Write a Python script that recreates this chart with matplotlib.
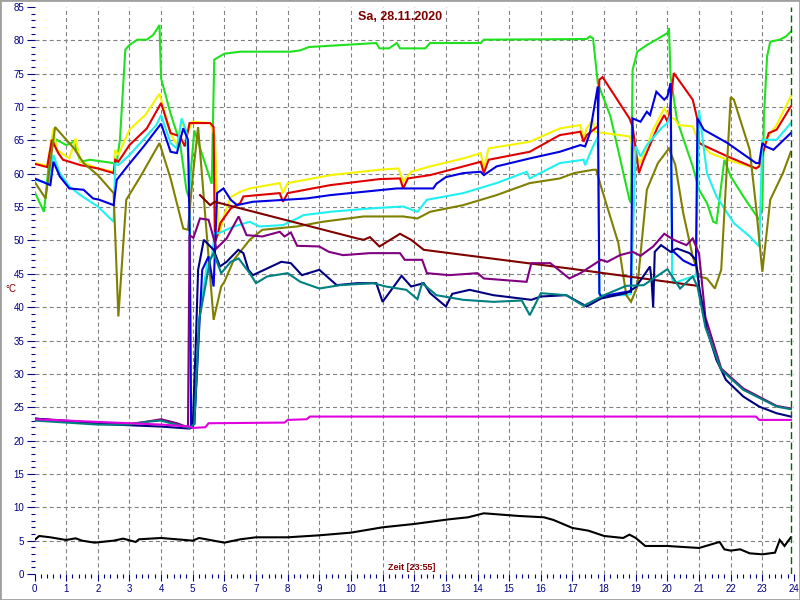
import matplotlib
matplotlib.use("Agg")
import matplotlib.pyplot as plt
from matplotlib.patches import Rectangle
from matplotlib.ticker import MultipleLocator

plt.rcParams["font.family"] = ["Liberation Sans", "DejaVu Sans"]
plt.rcParams["lines.scale_dashes"] = False

# --- data: hours of the day and temperatures (°C) ---
black_t = [0, 0.15, 0.5, 1.0, 1.3, 1.5, 1.9, 2.5, 2.8, 3.2, 3.3, 4.0, 5.0, 5.2, 6.0, 6.5, 7.0, 8.0, 9.0, 10.0,
           11.0, 11.6, 12.0, 13.1, 13.7, 14.2, 15.3, 16.1, 16.4, 17.0, 17.5, 18.0, 18.6, 18.8, 19.0, 19.3,
           20.0, 21.0, 21.5, 21.65, 21.8, 22.0, 22.3, 22.6, 23.0, 23.4, 23.55, 23.7, 23.9]
black_v = [5.1, 5.7, 5.5, 5.1, 5.35, 5.0, 4.7, 5.0, 5.3, 4.8, 5.2, 5.4, 5.0, 5.4, 4.7, 5.2, 5.5, 5.5, 5.8, 6.2,
           7.0, 7.3, 7.5, 8.2, 8.5, 9.1, 8.7, 8.5, 8.1, 6.9, 6.5, 5.7, 5.4, 5.9, 5.4, 4.2,
           4.2, 3.9, 4.6, 4.8, 3.7, 3.5, 3.7, 3.1, 2.95, 3.2, 5.1, 4.2, 5.5]

magenta_t = [0, 1, 2, 3, 4, 4.9, 5.0, 5.4, 5.5, 7.9, 8.0, 8.6, 8.7, 22.8, 22.9, 23.9]
magenta_v = [23.2, 23.0, 22.8, 22.6, 22.4, 22.1, 21.9, 22.0, 22.6, 22.7, 23.1, 23.2, 23.6, 23.6, 23.1, 23.1]

navy_t = [0, 1, 2, 3, 4, 4.9, 5.0, 5.1, 5.17, 5.35, 5.66, 5.86, 6.07, 6.44, 6.6, 6.76, 6.9, 7.8, 8.1, 8.45,
          9.0, 9.55, 10.2, 10.8, 11.0, 11.6, 11.9, 12.3, 12.5, 13.0, 13.2, 13.75, 14.5, 15.7, 16.0, 16.8,
          17.45, 17.9, 18.7, 19.0, 19.45, 19.5, 19.55, 19.6, 19.8, 20.1, 20.3, 20.7, 20.9, 21.0, 21.25,
          21.55, 21.85, 22.4, 22.9, 23.45, 23.9]
navy_v = [23.3, 22.9, 22.5, 22.3, 22.1, 21.8, 22.0, 35, 45.6, 50.1, 48.6, 46.1, 46.8, 48.6, 48.1, 45.6, 44.8, 46.8, 46.6, 44.8,
          45.6, 43.3, 43.6, 43.6, 40.8, 44.7, 43.1, 43.6, 42.1, 40.1, 42.0, 42.6, 41.8, 41.1, 41.6, 41.8,
          40.1, 41.3, 42.1, 43.0, 46.1, 44.0, 40.0, 48.3, 49.3, 48.3, 48.8, 48.1, 47.1, 43.1, 36.6,
          32.1, 29.1, 26.6, 25.1, 24.1, 23.6]

teal_t = [0, 1, 2, 3, 3.5, 4.0, 4.3, 4.9, 5.05, 5.2, 5.55, 5.66, 5.9, 6.2, 6.45, 6.8, 7.0, 7.35, 8.0, 8.4,
          9.0, 9.65, 10.7, 11.1, 11.75, 12.1, 12.25, 12.7, 13.55, 14.5, 15.4, 15.65, 16.0, 16.8, 17.35,
          18.0, 18.7, 19.25, 20.0, 20.4, 20.8, 20.95, 21.2, 21.7, 22.4, 23.45, 23.9]
teal_v = [23.0, 22.7, 22.4, 22.4, 22.8, 23.0, 22.6, 21.9, 22.5, 38, 47.1, 48.1, 45.1, 46.8, 47.3, 45.1, 43.6, 44.6, 45.1, 43.8,
          42.8, 43.3, 43.6, 43.1, 42.6, 41.2, 43.6, 41.8, 41.1, 40.8, 41.0, 38.8, 42.1, 41.8, 40.2,
          41.8, 43.2, 43.3, 45.7, 42.8, 44.6, 43.1, 37.0, 30.6, 27.6, 25.1, 24.7]

purple_t = [0, 1, 2, 3, 3.5, 4.0, 4.5, 4.85, 4.9, 5.02, 5.23, 5.5, 5.75, 6.07, 6.45, 6.7, 7.2, 7.75, 7.9, 8.1,
            8.3, 9.0, 9.3, 9.75, 10.6, 11.55, 11.7, 12.25, 12.4, 13.1, 14.0, 14.2, 15.55, 15.7, 16.3, 16.9,
            17.25, 17.9, 18.1, 18.5, 18.9, 19.15, 19.55, 19.9, 20.2, 20.6, 20.8, 21.0, 21.2, 21.7, 22.4,
            23.45, 23.9]
purple_v = [23.3, 23.0, 22.6, 22.5, 22.8, 23.2, 22.6, 22.0, 50.8, 50.4, 53.3, 53.1, 48.8, 50.3, 53.6, 50.8, 50.6, 51.3, 50.6, 51.2,
            49.2, 49.1, 48.3, 47.8, 48.1, 48.1, 47.1, 47.1, 45.1, 44.8, 45.1, 44.3, 43.8, 46.6, 46.6, 44.3,
            45.1, 47.1, 46.8, 47.8, 48.3, 47.7, 49.1, 51.0, 50.1, 49.3, 50.3, 48.0, 38.5, 30.8, 27.8,
            25.2, 24.8]

maroon_t = [5.23, 5.55, 5.7, 10.2, 10.4, 10.6, 10.9, 11.55, 11.9, 12.3, 16.9, 20.95]
maroon_v = [56.8, 55.3, 55.8, 50.3, 50.1, 50.5, 49.1, 51.0, 50.1, 48.6, 45.8, 43.2]

yellow_t = [0, 0.4, 0.6, 0.7, 1.1, 1.3, 1.45, 2.0, 2.5, 2.55, 2.65, 3.0, 3.5, 3.95, 4.3, 4.5, 4.65, 4.8, 5.0,
            5.55, 5.7, 5.82, 5.98, 6.2, 6.5, 6.8, 7.75, 7.85, 8.0, 9.35, 10.9, 11.5, 11.65, 11.9, 12.5,
            13.55, 14.1, 14.2, 14.35, 15.65, 16.6, 17.25, 17.35, 17.45, 17.65, 17.7, 18.8, 19.0, 19.15,
            19.55, 19.9, 20.05, 20.25, 20.35, 20.8, 20.95, 21.35, 21.9, 22.8, 22.9, 23.1, 23.45, 23.9]
yellow_v = [61.6, 61.2, 66.8, 63.6, 62.3, 65.3, 61.8, 60.8, 60.3, 63.6, 62.8, 66.6, 68.8, 72.0, 66.1, 64.3, 68.1, 65.8, 67.8,
            67.6, 65.6, 50.6, 53.6, 56.5, 57.3, 57.8, 58.6, 57.1, 58.6, 59.8, 60.6, 60.8, 58.8, 60.3, 61.1,
            62.3, 63.1, 60.8, 63.8, 64.8, 66.8, 67.3, 65.1, 66.8, 68.1, 66.3, 65.6, 62.8, 61.6,
            66.6, 69.8, 68.6, 68.1, 67.3, 67.1, 65.1, 63.1, 62.1, 60.8, 61.1, 65.1, 67.3, 71.6]

red_t = [0, 0.4, 0.55, 0.75, 0.9, 1.45, 2.0, 2.5, 2.55, 2.65, 3.0, 3.55, 4.0, 4.3, 4.6, 4.75, 4.9, 5.55, 5.66,
         5.7, 5.8, 5.87, 6.2, 6.5, 6.6, 7.75, 7.85, 8.0, 9.35, 10.9, 11.55, 11.65, 11.8, 12.5, 13.55, 14.1,
         14.2, 14.35, 15.65, 16.6, 17.25, 17.35, 17.45, 17.8, 17.85, 17.95, 18.8, 18.9, 19.1, 19.25, 19.7,
         19.9, 20.0, 20.05, 20.2, 20.8, 20.95, 21.0, 21.35, 21.9, 22.8, 22.9, 23.2, 23.45, 23.9]
red_v = [61.5, 61.0, 65.1, 63.1, 62.1, 61.3, 60.8, 60.1, 62.1, 61.8, 64.3, 66.8, 70.6, 66.1, 65.6, 64.1, 67.6, 67.6, 67.0,
         49.6, 51.1, 52.6, 54.8, 55.6, 56.6, 57.1, 55.8, 57.1, 58.3, 59.2, 59.3, 57.8, 59.3, 59.8, 61.1, 61.8,
         60.1, 62.1, 63.3, 65.8, 66.3, 64.8, 65.8, 67.1, 74.1, 74.5, 68.3, 67.1, 60.1, 62.1, 67.1,
         68.8, 67.8, 68.5, 75.1, 71.1, 68.1, 64.6, 63.8, 62.6, 60.8, 61.1, 66.1, 66.6, 70.1]

blue_t = [0, 0.5, 0.6, 0.8, 1.1, 1.55, 1.85, 2.05, 2.5, 2.6, 3.0, 3.45, 4.0, 4.3, 4.5, 4.7, 4.85, 4.9, 4.95,
          5.05, 5.3, 5.5, 5.66, 5.77, 5.97, 6.2, 6.4, 6.9, 8.6, 9.35, 10.4, 11.45, 12.6, 12.7, 13.0, 13.55,
          14.1, 14.2, 14.6, 15.65, 16.6, 17.25, 17.4, 17.55, 17.8, 17.85, 17.9, 18.7, 18.85, 18.9, 19.15,
          19.35, 19.45, 19.65, 19.9, 20.0, 20.1, 20.15, 20.2, 20.5, 20.8, 20.9, 20.95, 21.15, 21.9, 22.8,
          22.9, 23.0, 23.1, 23.35, 23.9]
blue_v = [59.3, 58.3, 61.8, 59.6, 57.8, 57.6, 56.3, 56.1, 55.3, 59.1, 61.5, 64.1, 67.5, 63.3, 63.1, 66.8, 65.1, 52.0, 22.0,
          22.5, 45.6, 47.6, 43.1, 57.1, 57.8, 56.1, 55.3, 55.8, 56.3, 56.8, 57.3, 57.8, 57.8, 58.5, 59.5, 60.1,
          60.3, 59.8, 61.1, 62.3, 63.3, 64.3, 64.1, 66.1, 73.1, 42.1, 41.6, 42.3, 42.3, 68.3, 67.8,
          69.3, 68.8, 72.3, 71.1, 71.6, 73.6, 48.3, 48.3, 47.0, 46.3, 46.3, 68.3, 66.6, 64.6, 61.6,
          61.6, 64.6, 64.1, 63.6, 66.1]

cyan_t = [0, 0.45, 0.6, 0.8, 1.1, 1.45, 2.0, 2.5, 2.55, 2.65, 3.0, 3.85, 4.0, 4.3, 4.5, 4.65, 4.8, 4.9, 4.95,
          5.05, 5.2, 5.45, 5.6, 5.7, 5.82, 6.3, 6.8, 7.1, 7.85, 8.3, 8.5, 9.35, 10.6, 11.65, 12.1, 12.4,
          13.55, 14.6, 15.55, 15.65, 16.6, 17.35, 17.4, 17.65, 17.8, 17.85, 17.9, 18.7, 18.85, 19.0, 19.15,
          19.35, 19.8, 20.0, 20.1, 20.15, 20.2, 20.8, 20.9, 21.0, 21.25, 21.55, 22.1, 22.6, 22.9, 23.0,
          23.45, 23.9]
cyan_v = [59.1, 58.6, 62.8, 60.1, 58.1, 56.8, 55.1, 52.8, 61.5, 61.3, 62.8, 67.3, 68.8, 64.6, 63.8, 68.3, 66.3, 60.0, 22.3,
          22.5, 38, 46.3, 47.6, 51.1, 51.1, 52.1, 52.8, 52.1, 52.3, 53.3, 53.8, 54.3, 54.8, 55.1, 54.3, 56.1,
          57.1, 58.6, 60.3, 59.3, 61.6, 62.1, 61.3, 64.1, 65.5, 42.0, 41.8, 41.8, 42.0, 64.1, 62.6,
          64.3, 66.8, 67.6, 68.8, 44.3, 43.6, 44.6, 44.6, 69.5, 60.1, 56.6, 52.6, 50.6, 49.1, 65.1,
          65.1, 67.6]

olive_t = [0, 0.35, 0.65, 1.25, 1.55, 2.0, 2.5, 2.65, 2.9, 3.35, 3.95, 4.3, 4.7, 4.85, 5.0, 5.17, 5.66, 5.9,
           6.0, 6.3, 6.8, 7.2, 8.3, 9.1, 10.4, 11.65, 12.1, 12.5, 13.55, 14.6, 15.65, 16.6, 17.05, 17.65,
           17.75, 17.9, 18.45, 18.7, 18.85, 19.05, 19.35, 19.7, 20.05, 20.25, 20.5, 20.8, 21.0, 21.25,
           21.5, 21.7, 22.0, 22.1, 22.3, 22.6, 22.8, 23.0, 23.25, 23.65, 23.9]
olive_v = [58.8, 56.3, 67.0, 63.8, 61.6, 59.8, 57.1, 38.6, 56.1, 59.6, 64.6, 59.3, 51.8, 51.6, 59.6, 67.0, 38.1, 43.1,
           43.8, 47.1, 50.1, 51.6, 52.1, 52.8, 53.6, 53.6, 53.3, 54.3, 55.3, 56.8, 58.6, 59.3, 60.1, 60.6,
           60.6, 58.1, 49.6, 41.8, 40.8, 43.1, 57.6, 61.6, 63.8, 61.3, 54.1, 47.6, 44.6, 44.3,
           42.8, 45.6, 71.5, 71.1, 68.1, 63.6, 55.1, 45.3, 56.1, 60.1, 63.3]

green_t = [0, 0.3, 0.5, 0.7, 1.0, 1.25, 1.45, 1.75, 2.5, 2.6, 2.7, 2.87, 3.0, 3.25, 3.55, 3.75, 3.95, 4.0, 4.3,
           4.6, 4.8, 4.87, 5.05, 5.6, 5.68, 6.0, 6.5, 8.1, 8.4, 8.67, 10.8, 10.9, 11.2, 11.45, 11.55, 12.35,
           12.5, 14.1, 14.2, 17.45, 17.55, 17.65, 17.8, 18.2, 18.8, 18.85, 18.9, 19.05, 19.35, 19.65, 20.0,
           20.05, 20.1, 20.3, 20.8, 21.0, 21.25, 21.45, 21.55, 21.8, 22.0, 22.4, 22.9, 23.0, 23.05, 23.15,
           23.25, 23.55, 23.75, 23.9]
green_v = [57.3, 54.3, 63.6, 65.1, 64.3, 64.8, 61.8, 62.1, 61.6, 61.8, 65.1, 78.6, 79.3, 80.1, 80.1, 80.8, 82.3, 74.3, 69.0,
           64.6, 57.6, 56.5, 66.5, 58.5, 77.1, 78.0, 78.3, 78.3, 78.5, 79.0, 79.6, 78.8, 78.8, 79.6, 78.8, 78.8,
           79.6, 79.6, 80.1, 80.2, 80.6, 80.3, 73.6, 68.6, 56.1, 55.6, 75.6, 78.3, 79.3, 80.1, 81.1,
           81.8, 74.6, 68.1, 61.1, 57.6, 55.6, 52.8, 52.6, 62.1, 59.6, 56.6, 53.1, 55.0, 68.6, 77.6,
           79.8, 80.1, 80.6, 81.3]

series = [
    (green_t, green_v, "#20e020"),
    (yellow_t, yellow_v, "#f4f400"),
    (red_t, red_v, "#e00000"),
    (cyan_t, cyan_v, "#20f0f0"),
    (olive_t, olive_v, "#808000"),
    (blue_t, blue_v, "#0000e0"),
    (maroon_t, maroon_v, "#800000"),
    (purple_t, purple_v, "#800080"),
    (navy_t, navy_v, "#000080"),
    (teal_t, teal_v, "#008080"),
    (magenta_t, magenta_v, "#e000e0"),
    (black_t, black_v, "#000000"),
]

now_hour = 23 + 55 / 60

fig = plt.figure(figsize=(8, 6), dpi=100, facecolor="white")
ax = fig.add_axes([34.5 / 800, 26 / 600, 759.5 / 800, 567 / 600])
ax.set_facecolor("white")

# dashed grid, only the inner lines (none on the plot edges)
grid_style = dict(color="#808080", linewidth=0.8, linestyle=(0, (2.9, 2.2)), zorder=0)
for h in range(1, 24):
    ax.axvline(h, **grid_style)
for y in range(5, 85, 5):
    ax.axhline(y, **grid_style)

for t, v, c in series:
    ax.plot(t, v, color=c, linewidth=1.5, solid_joinstyle="miter")

ax.axvline(now_hour, color="#006400", linewidth=1, linestyle=(0, (5, 2.5)))

ax.set_xlim(0, 24)
ax.set_ylim(0, 85)
ax.xaxis.set_major_locator(MultipleLocator(1))
ax.xaxis.set_minor_locator(MultipleLocator(0.2))
ax.yaxis.set_major_locator(MultipleLocator(5))
ax.yaxis.set_minor_locator(MultipleLocator(1))
for s in ax.spines.values():
    s.set_visible(False)

ax.tick_params(axis="both", which="major", colors="#000080", labelsize=7, width=0.8)
ax.tick_params(axis="y", which="major", length=6, pad=1.5)
ax.tick_params(axis="y", which="minor", length=2.8, width=0.8, colors="#000080")
ax.tick_params(axis="x", which="major", length=5, pad=2.5)
ax.tick_params(axis="x", which="minor", length=2.8, width=0.8, colors="#000080")

fig.text(0.5, 1 - 17 / 600, "Sa, 28.11.2020", ha="center", va="center",
         fontsize=9, fontweight="bold", color="#800000")
fig.text(412 / 800, 1 - 568 / 600, "Zeit [23:55]", ha="center", va="center",
         fontsize=6.5, fontweight="bold", color="#800000")
fig.text(11 / 800, 1 - 289 / 600, "°C", ha="center", va="center",
         fontsize=7, color="#800000")

fig.patches.append(Rectangle((0, 0), 1, 1, transform=fig.transFigure, fill=False,
                             edgecolor="#a0a0a0", linewidth=2))

plt.savefig("out.png", dpi=100, facecolor=fig.get_facecolor())
plt.close()
